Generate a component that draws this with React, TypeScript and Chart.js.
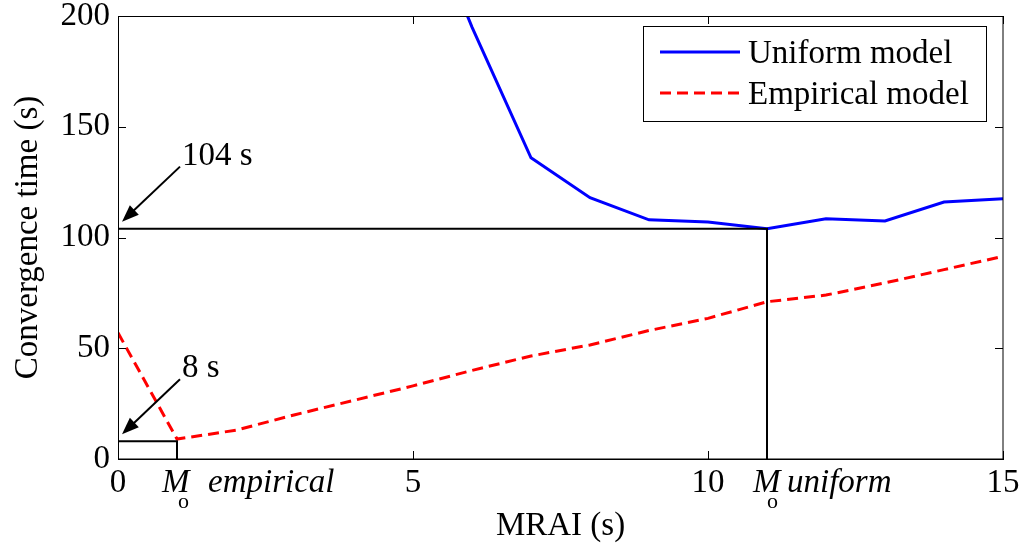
import React, { useEffect, useRef } from 'react';
import { Chart, registerables } from 'chart.js';

Chart.register(...registerables);

// ---- data ----
const uniformMrai = [5, 6, 7, 8, 9, 10, 11, 12, 13, 14, 15];
const uniformTime = [260, 195, 136, 118, 108, 107, 104, 108.5, 107.5, 116, 117.5];
const empiricalMrai = [0, 1, 2, 3, 4, 5, 6, 7, 8, 9, 10, 11, 12, 13, 14, 15];
const empiricalTime = [57, 9, 13, 20, 26.5, 33, 40, 46.5, 51.5, 58, 63.5, 71, 74, 79.5, 85.5, 91.5];
const uniformOptimum = [11, 104];
const empiricalOptimum = [1, 8];
const optimumLabels = ['104 s', '8 s'];
const optimumTickLabels = ['empirical', 'uniform'];
const xTickValues = [0, 5, 10, 15];
const yTickValues = [0, 50, 100, 150, 200];
const seriesLabels = ['Uniform model', 'Empirical model'];
const axisTitles = ['MRAI (s)', 'Convergence time (s)'];

const FONT = '"Liberation Serif"';
Chart.defaults.font.family = FONT;

function toPoints(xs: number[], ys: number[]) {
  return xs.map((x, i) => ({ x, y: ys[i] }));
}

function drawArrow(ctx: CanvasRenderingContext2D, x1: number, y1: number, x2: number, y2: number) {
  const ang = Math.atan2(y2 - y1, x2 - x1);
  const len = 17;
  const hw = 6.5;
  ctx.beginPath();
  ctx.moveTo(x1, y1);
  ctx.lineTo(x2 - Math.cos(ang) * len * 0.8, y2 - Math.sin(ang) * len * 0.8);
  ctx.lineWidth = 2;
  ctx.strokeStyle = '#000';
  ctx.stroke();
  ctx.beginPath();
  ctx.moveTo(x2, y2);
  ctx.lineTo(x2 - Math.cos(ang) * len - Math.sin(ang) * hw, y2 - Math.sin(ang) * len + Math.cos(ang) * hw);
  ctx.lineTo(x2 - Math.cos(ang) * len + Math.sin(ang) * hw, y2 - Math.sin(ang) * len - Math.cos(ang) * hw);
  ctx.closePath();
  ctx.fillStyle = '#000';
  ctx.fill();
}

const decorPlugin = {
  id: 'decor',
  afterDatasetsDraw(chart: any) {
    const { ctx, chartArea: ca, scales } = chart;
    const xs = scales.x;
    const ys = scales.y;
    ctx.save();
    // frame
    ctx.strokeStyle = '#000';
    ctx.lineWidth = 1;
    ctx.strokeRect(ca.left + 0.5, ca.top + 0.5, ca.right - ca.left - 0.5, ca.bottom - ca.top - 0.5);
    // inner ticks
    ctx.beginPath();
    xTickValues.forEach((v) => {
      const px = Math.round(xs.getPixelForValue(v)) + 0.5;
      ctx.moveTo(px, ca.bottom);
      ctx.lineTo(px, ca.bottom - 8);
      ctx.moveTo(px, ca.top);
      ctx.lineTo(px, ca.top + 8);
    });
    yTickValues.forEach((v) => {
      const py = Math.round(ys.getPixelForValue(v)) + 0.5;
      ctx.moveTo(ca.left, py);
      ctx.lineTo(ca.left + 8, py);
      ctx.moveTo(ca.right, py);
      ctx.lineTo(ca.right - 8, py);
    });
    ctx.stroke();

    // arrows + value labels
    const optima = [uniformOptimum, empiricalOptimum];
    ctx.textBaseline = 'alphabetic';
    ctx.textAlign = 'left';
    optima.forEach((o, i) => {
      const px = xs.getPixelForValue(0);
      const py = ys.getPixelForValue(o[1]);
      const tail = { x: px + 62, y: py - 62 };
      drawArrow(ctx, tail.x, tail.y, px + 4, py - 7);
      ctx.fillStyle = '#000';
      ctx.font = `33px ${FONT}`;
      ctx.fillText(optimumLabels[i], tail.x + 2, tail.y - 2);
    });

    // M_o tick labels
    const offsets = [
      { m: -15, o: 1, w: 31 },
      { m: -14, o: 0, w: 20 },
    ];
    [empiricalOptimum, uniformOptimum].forEach((o, i) => {
      const px = xs.getPixelForValue(o[0]);
      ctx.fillStyle = '#000';
      ctx.font = `italic 33px ${FONT}`;
      ctx.fillText('M', px + offsets[i].m, 492);
      ctx.font = `22px ${FONT}`;
      ctx.fillText('o', px + offsets[i].o, 508);
      ctx.font = `italic 33px ${FONT}`;
      ctx.fillText(optimumTickLabels[i], px + offsets[i].w, 492);
    });

    // legend
    const lx = 643, ly = 26, lw = 343, lh = 95;
    ctx.fillStyle = '#fff';
    ctx.fillRect(lx, ly, lw, lh);
    ctx.strokeStyle = '#000';
    ctx.lineWidth = 1;
    ctx.strokeRect(lx + 0.5, ly + 0.5, lw, lh);
    const legendSets = chart.data.datasets.filter((d: any) => seriesLabels.includes(d.label));
    legendSets.forEach((d: any, i: number) => {
      const yy = ly + 26 + i * 41;
      ctx.beginPath();
      ctx.setLineDash(d.borderDash || []);
      ctx.strokeStyle = d.borderColor;
      ctx.lineWidth = d.borderWidth;
      ctx.moveTo(660, yy);
      ctx.lineTo(740, yy);
      ctx.stroke();
      ctx.setLineDash([]);
      ctx.fillStyle = '#000';
      ctx.font = `33px ${FONT}`;
      ctx.textBaseline = 'middle';
      ctx.fillText(d.label, 748, yy + 2);
    });
    ctx.restore();
  },
};

export default function App() {
  const ref = useRef<HTMLCanvasElement | null>(null);
  useEffect(() => {
    if (!ref.current) return;
    const chart = new Chart(ref.current, {
      type: 'line',
      data: {
        datasets: [
          {
            label: 'opt-uniform',
            data: [
              { x: 0, y: uniformOptimum[1] },
              { x: uniformOptimum[0], y: uniformOptimum[1] },
              { x: uniformOptimum[0], y: 0 },
            ],
            borderColor: '#000',
            borderWidth: 2,
            pointRadius: 0,
            fill: false,
          },
          {
            label: 'opt-empirical',
            data: [
              { x: 0, y: empiricalOptimum[1] },
              { x: empiricalOptimum[0], y: empiricalOptimum[1] },
              { x: empiricalOptimum[0], y: 0 },
            ],
            borderColor: '#000',
            borderWidth: 2,
            pointRadius: 0,
            fill: false,
          },
          {
            label: seriesLabels[0],
            data: toPoints(uniformMrai, uniformTime),
            borderColor: 'rgb(0,0,255)',
            borderWidth: 3,
            pointRadius: 0,
            fill: false,
            tension: 0,
          },
          {
            label: seriesLabels[1],
            data: toPoints(empiricalMrai, empiricalTime),
            borderColor: 'rgb(255,0,0)',
            borderWidth: 3,
            borderDash: [11, 6],
            pointRadius: 0,
            fill: false,
            tension: 0,
          },
        ],
      },
      options: {
        animation: false,
        responsive: false,
        devicePixelRatio: 1,
        layout: { padding: { left: 0, top: 16, right: 20, bottom: 0 } },
        plugins: { legend: { display: false }, tooltip: { enabled: false } },
        scales: {
          x: {
            type: 'linear',
            min: 0,
            max: 15,
            afterFit: (s: any) => { s.height = 85; s.paddingLeft = 0; s.paddingRight = 0; },
            afterBuildTicks: (s: any) => { s.ticks = xTickValues.map((v) => ({ value: v })); },
            ticks: {
              color: '#000',
              padding: 8,
              maxRotation: 0,
              font: { family: FONT, size: 33, lineHeight: 1 },
            },
            grid: { display: false, drawTicks: false },
            border: { display: true, color: '#000', width: 1 },
            title: {
              display: true,
              text: axisTitles[0],
              color: '#000',
              font: { family: FONT, size: 33, lineHeight: 1 },
              padding: { top: 0, bottom: 1 },
            },
          },
          y: {
            type: 'linear',
            min: 0,
            max: 200,
            afterFit: (s: any) => { s.width = 118; s.paddingTop = 0; s.paddingBottom = 0; },
            afterBuildTicks: (s: any) => { s.ticks = yTickValues.map((v) => ({ value: v })); },
            ticks: {
              color: '#000',
              padding: 8,
              font: { family: FONT, size: 33, lineHeight: 1 },
            },
            grid: { display: false, drawTicks: false },
            border: { display: true, color: '#000', width: 1 },
            title: {
              display: true,
              text: axisTitles[1],
              color: '#000',
              font: { family: FONT, size: 33, lineHeight: 1 },
              padding: { top: 12, bottom: 0 },
            },
          },
        },
      },
      plugins: [decorPlugin],
    } as any);
    return () => chart.destroy();
  }, []);
  return (
    <div style={{ position: 'fixed', left: 0, top: 0, width: 1023, height: 544, background: '#fff' }}>
      <canvas ref={ref} width={1023} height={544} style={{ display: 'block' }} />
    </div>
  );
}
